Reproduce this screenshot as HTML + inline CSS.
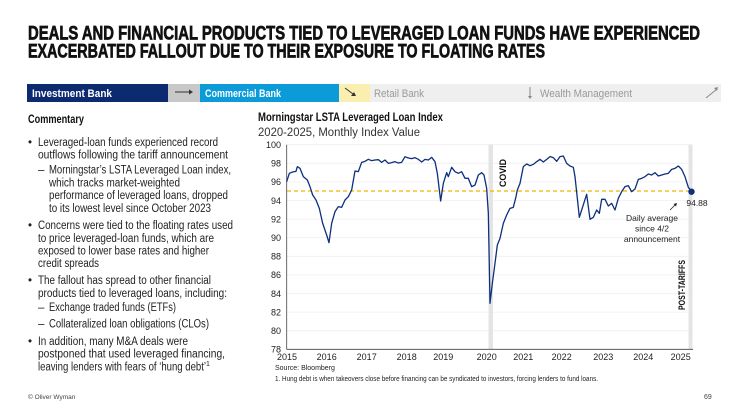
<!DOCTYPE html>
<html><head><meta charset="utf-8"><style>
html,body{margin:0;padding:0;background:#fff;}
svg{display:block;font-family:"Liberation Sans",sans-serif;}
</style></head><body>
<svg width="731" height="411" viewBox="0 0 731 411" xmlns="http://www.w3.org/2000/svg">
<g font-family="'Liberation Sans Narrow','Liberation Sans',sans-serif" font-weight="bold" font-size="19" fill="#111" stroke="#111" stroke-width="0.7">
<text x="28" y="39.5" textLength="672" lengthAdjust="spacingAndGlyphs">DEALS AND FINANCIAL PRODUCTS TIED TO LEVERAGED LOAN FUNDS HAVE EXPERIENCED</text>
<text x="28" y="57.5" textLength="517" lengthAdjust="spacingAndGlyphs">EXACERBATED FALLOUT DUE TO THEIR EXPOSURE TO FLOATING RATES</text>
</g>
<rect x="27" y="84" width="141" height="18" fill="#0b2a6f"/>
<rect x="168" y="84" width="32" height="18" fill="#c8c8c8"/>
<rect x="200" y="84" width="139" height="18" fill="#0a9bd8"/>
<rect x="339" y="84" width="31" height="18" fill="#fbefb0"/>
<rect x="370" y="84" width="351" height="18" fill="#efefef"/>
<g font-size="11" font-weight="bold">
<text x="32" y="97" fill="#fff" textLength="80" lengthAdjust="spacingAndGlyphs">Investment Bank</text>
<text x="205" y="97" fill="#fff" textLength="76" lengthAdjust="spacingAndGlyphs">Commercial Bank</text>
</g>
<g font-size="11" fill="#999">
<text x="374" y="97" textLength="50" lengthAdjust="spacingAndGlyphs">Retail Bank</text>
<text x="540" y="97" textLength="92" lengthAdjust="spacingAndGlyphs">Wealth Management</text>
</g>
<line x1="175" y1="92" x2="189" y2="92" stroke="#333" stroke-width="1"/><path d="M189,89.5 L193,92 L189,94.5Z" fill="#333"/>
<line x1="345" y1="88" x2="353" y2="94" stroke="#333"/><path d="M351,96 L356,96 L354,92Z" fill="#333"/>
<line x1="530" y1="87" x2="530" y2="97" stroke="#888"/><path d="M528,96 L532,96 L530,99Z" fill="#888"/>
<line x1="706" y1="98" x2="717" y2="89" stroke="#888"/><path d="M714,88 L718,87 L717,91Z" fill="#888"/>
<text x="28" y="123" font-size="11.5" font-weight="bold" fill="#111" textLength="56" lengthAdjust="spacingAndGlyphs">Commentary</text>
<g font-size="11.5" fill="#222">
<text x="28" y="146">•</text>
<text x="38" y="146" textLength="180" lengthAdjust="spacingAndGlyphs">Leveraged-loan funds experienced record</text>
<text x="38" y="158.5" textLength="190" lengthAdjust="spacingAndGlyphs">outflows following the tariff announcement</text>
<text x="38" y="173.5">–</text>
<text x="49" y="173.5" textLength="182" lengthAdjust="spacingAndGlyphs">Morningstar’s LSTA Leveraged Loan index,</text>
<text x="49" y="186.5" textLength="131" lengthAdjust="spacingAndGlyphs">which tracks market-weighted</text>
<text x="49" y="199" textLength="179" lengthAdjust="spacingAndGlyphs">performance of leveraged loans, dropped</text>
<text x="49" y="212" textLength="162" lengthAdjust="spacingAndGlyphs">to its lowest level since October 2023</text>
<text x="28" y="229">•</text>
<text x="38" y="229" textLength="195" lengthAdjust="spacingAndGlyphs">Concerns were tied to the floating rates used</text>
<text x="38" y="242" textLength="176" lengthAdjust="spacingAndGlyphs">to price leveraged-loan funds, which are</text>
<text x="38" y="254.5" textLength="171" lengthAdjust="spacingAndGlyphs">exposed to lower base rates and higher</text>
<text x="38" y="267" textLength="61" lengthAdjust="spacingAndGlyphs">credit spreads</text>
<text x="28" y="284">•</text>
<text x="38" y="284" textLength="173" lengthAdjust="spacingAndGlyphs">The fallout has spread to other financial</text>
<text x="38" y="297" textLength="189" lengthAdjust="spacingAndGlyphs">products tied to leveraged loans, including:</text>
<text x="38" y="311">–</text>
<text x="49" y="311" textLength="127" lengthAdjust="spacingAndGlyphs">Exchange traded funds (ETFs)</text>
<text x="38" y="327.5">–</text>
<text x="49" y="327.5" textLength="160" lengthAdjust="spacingAndGlyphs">Collateralized loan obligations (CLOs)</text>
<text x="28" y="345">•</text>
<text x="38" y="345" textLength="150" lengthAdjust="spacingAndGlyphs">In addition, many M&amp;A deals were</text>
<text x="38" y="357.5" textLength="187" lengthAdjust="spacingAndGlyphs">postponed that used leveraged financing,</text>
<text x="38" y="370.5" textLength="168" lengthAdjust="spacingAndGlyphs">leaving lenders with fears of ‘hung debt’</text>
<text x="206" y="366" font-size="7">1</text>
</g>
<text x="258" y="121" font-size="11.5" font-weight="bold" fill="#111" textLength="185" lengthAdjust="spacingAndGlyphs">Morningstar LSTA Leveraged Loan Index</text>
<text x="258" y="136" font-size="11.5" fill="#333" textLength="162" lengthAdjust="spacingAndGlyphs">2020-2025, Monthly Index Value</text>
<g stroke="#efefef" stroke-width="0.8">
<line x1="287" y1="144.7" x2="692" y2="144.7"/><line x1="287" y1="163.3" x2="692" y2="163.3"/>
<line x1="287" y1="181.9" x2="692" y2="181.9"/><line x1="287" y1="200.5" x2="692" y2="200.5"/>
<line x1="287" y1="219.1" x2="692" y2="219.1"/><line x1="287" y1="237.7" x2="692" y2="237.7"/>
<line x1="287" y1="256.3" x2="692" y2="256.3"/><line x1="287" y1="274.9" x2="692" y2="274.9"/>
<line x1="287" y1="293.5" x2="692" y2="293.5"/><line x1="287" y1="312.1" x2="692" y2="312.1"/>
<line x1="287" y1="330.7" x2="692" y2="330.7"/>
</g>
<rect x="488.5" y="144.7" width="4.5" height="204.6" fill="#e4e4e4"/>
<rect x="688.5" y="144.7" width="4" height="204.6" fill="#e4e4e4"/>
<line x1="286.7" y1="144.7" x2="286.7" y2="349.3" stroke="#444" stroke-width="0.8"/>
<line x1="286.7" y1="349.3" x2="693" y2="349.3" stroke="#444" stroke-width="0.8"/>
<g font-size="9" fill="#222" text-anchor="end">
<text x="281" y="148">100</text><text x="281" y="166.6">98</text><text x="281" y="185.2">96</text>
<text x="281" y="203.8">94</text><text x="281" y="222.4">92</text><text x="281" y="241">90</text>
<text x="281" y="259.6">88</text><text x="281" y="278.2">86</text><text x="281" y="296.8">84</text>
<text x="281" y="315.4">82</text><text x="281" y="334">80</text><text x="281" y="352.6">78</text>
</g>
<g font-size="9" fill="#222" text-anchor="middle">
<text x="287" y="360">2015</text><text x="326.7" y="360">2016</text><text x="366.7" y="360">2017</text>
<text x="406.7" y="360">2018</text><text x="443.3" y="360">2019</text><text x="486.7" y="360">2020</text>
<text x="523.3" y="360">2021</text><text x="561.7" y="360">2022</text><text x="603.3" y="360">2023</text>
<text x="643.3" y="360">2024</text><text x="680.7" y="360">2025</text>
</g>
<line x1="287" y1="191" x2="690" y2="191" stroke="#f4b400" stroke-width="1.3" stroke-dasharray="4,3"/>
<g transform="translate(260,130) scale(0.33333)">
<polyline fill="none" stroke="#0d2f7e" stroke-width="1.3" vector-effect="non-scaling-stroke" stroke-linejoin="round" points="80,155 88,130 98,126 108,124 112,110 120,115 130,140 142,150 150,170 158,195 168,210 178,235 188,280 200,315 207,338 215,280 225,245 235,230 245,232 255,210 265,200 275,180 285,123 295,125 305,97 315,94 325,88 335,92 345,90 355,89 365,97 375,90 385,100 395,98 405,95 415,99 425,97 435,80 445,84 455,86 465,83 475,88 485,96 495,88 505,90 515,82 525,95 532,130 542,213 550,160 560,128 565,140 575,112 585,125 595,130 605,125 615,145 625,145 635,170 645,165 655,135 665,128 672,135 680,175 685,250 690,520 697,460 705,400 712,345 720,325 730,280 740,255 750,235 760,232 768,200 772,180 780,160 790,110 800,102 810,107 820,103 830,95 840,88 850,96 860,88 870,80 880,83 890,94 900,80 910,78 920,100 930,108 940,112 945,140 952,205 958,262 965,240 972,218 980,193 985,230 990,268 1000,262 1010,240 1018,250 1025,208 1035,208 1045,228 1055,220 1065,240 1075,205 1085,185 1095,170 1105,167 1115,185 1125,177 1135,148 1145,145 1155,140 1165,132 1175,135 1185,128 1195,138 1205,135 1215,132 1225,130 1235,118 1245,115 1255,108 1265,118 1275,140 1285,172 1295,185"/>
</g>
<circle cx="691.5" cy="191.7" r="3.2" fill="#0d2f7e"/>
<text transform="translate(506,187) rotate(-90)" font-family="'Liberation Sans Narrow','Liberation Sans',sans-serif" font-weight="bold" font-size="9" fill="#111" textLength="28" lengthAdjust="spacingAndGlyphs">COVID</text>
<text transform="translate(685,310) rotate(-90)" font-family="'Liberation Sans Narrow','Liberation Sans',sans-serif" font-weight="bold" font-size="9" fill="#111" textLength="50" lengthAdjust="spacingAndGlyphs">POST-TARIFFS</text>
<text x="697" y="206" font-size="8.5" fill="#222" text-anchor="middle">94.88</text>
<g font-size="8.5" fill="#222" text-anchor="middle">
<text x="652" y="221">Daily average</text>
<text x="652" y="231.5">since 4/2</text>
<text x="652" y="242">announcement</text>
</g>
<line x1="670" y1="210" x2="676" y2="204" stroke="#222" stroke-width="0.8"/><path d="M677,203 L673.5,204 L676,206.5Z" fill="#222"/>
<text x="275" y="370" font-size="7" fill="#222">Source: Bloomberg</text>
<text x="275" y="381" font-size="7" fill="#222" textLength="323" lengthAdjust="spacingAndGlyphs">1. Hung debt is when takeovers close before financing can be syndicated to investors, forcing lenders to fund loans.</text>
<text x="28" y="399" font-size="6.5" fill="#444">© Oliver Wyman</text>
<text x="704" y="399" font-size="7" fill="#444">69</text>
</svg>
</body></html>
